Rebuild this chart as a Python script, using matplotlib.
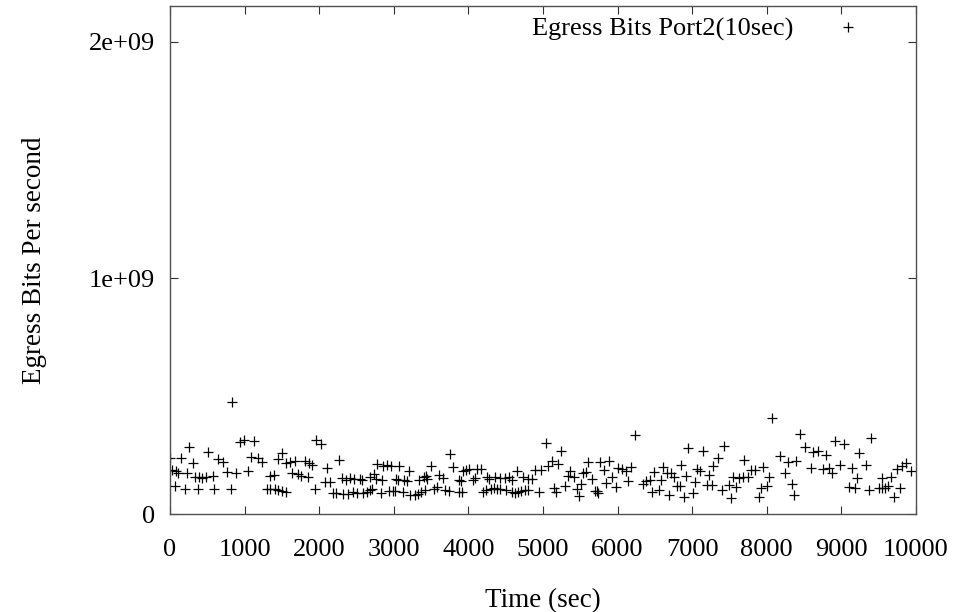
import numpy as np
import matplotlib
matplotlib.use("Agg")
import matplotlib.pyplot as plt

plt.rcParams['font.family'] = ['Liberation Serif', 'DejaVu Serif']

# sample time (sec)
time_sec = [
    0, 30, 70, 80, 110, 150, 200, 230, 260, 310, 340, 380, 390, 430, 480, 510,
    580, 590, 640, 710, 760, 820, 830, 890, 940, 990, 1040, 1090, 1130, 1180, 1230,
    1300, 1340, 1340, 1390, 1410, 1450, 1450, 1500, 1500, 1560, 1560, 1610, 1640,
    1670, 1720, 1760, 1810, 1850, 1870, 1910, 1950, 1960, 2020, 2080, 2110, 2150,
    2190, 2230, 2260, 2300, 2320, 2360, 2380, 2410, 2450, 2470, 2510, 2550, 2580,
    2590, 2640, 2680, 2680, 2710, 2730, 2760, 2780, 2830, 2840, 2860, 2910, 2940,
    2960, 2990, 3020, 3030, 3060, 3070, 3130, 3140, 3180, 3210, 3220, 3280, 3320,
    3340, 3370, 3410, 3420, 3430, 3450, 3500, 3540, 3580, 3600, 3660, 3690, 3740,
    3750, 3800, 3870, 3880, 3900, 3920, 3930, 3970, 4010, 4060, 4090, 4120, 4170,
    4200, 4240, 4250, 4280, 4300, 4350, 4360, 4390, 4420, 4430, 4490, 4510, 4540,
    4580, 4590, 4620, 4650, 4670, 4710, 4730, 4760, 4800, 4800, 4850, 4890, 4940,
    4970, 5040, 5070, 5120, 5150, 5180, 5200, 5240, 5300, 5330, 5360, 5420, 5450,
    5480, 5510, 5530, 5580, 5610, 5660, 5700, 5720, 5740, 5760, 5820, 5850, 5880,
    5930, 5980, 6010, 6060, 6110, 6140, 6180, 6230, 6340, 6380, 6430, 6460, 6490,
    6550, 6580, 6610, 6660, 6690, 6710, 6760, 6800, 6830, 6850, 6890, 6920, 6950,
    7010, 7040, 7060, 7110, 7140, 7200, 7220, 7260, 7280, 7340, 7400, 7420, 7500,
    7520, 7550, 7590, 7630, 7680, 7700, 7750, 7790, 7840, 7900, 7920, 7950, 8000,
    8030, 8070, 8180, 8240, 8280, 8340, 8360, 8390, 8440, 8510, 8590, 8620, 8690,
    8750, 8790, 8840, 8880, 8910, 8980, 9040, 9100, 9140, 9180, 9210, 9240, 9330,
    9370, 9400, 9500, 9540, 9540, 9580, 9630, 9670, 9710, 9740, 9790, 9810, 9870,
    9930,
]

# egress rate, Mbit/s
egress_mbps = [
    240, 188, 120, 183, 176, 240, 107, 176, 286, 216, 159, 107, 157, 154, 157, 264,
    162, 107, 234, 223, 178, 107, 477, 176, 308, 315, 183, 242, 312, 237, 223,
    106, 106, 162, 167, 106, 234, 103, 99, 261, 96, 216, 223, 174,
    226, 171, 164, 226, 159, 216, 209, 106, 315, 298, 136, 195, 136,
    92, 89, 230, 153, 86, 145, 86, 153, 93, 148, 89, 148, 145,
    89, 96, 103, 157, 106, 171, 148, 213, 92, 145, 205, 209, 100,
    205, 100, 100, 151, 145, 205, 96, 145, 142, 185, 82, 82, 86,
    145, 96, 157, 103, 162, 148, 205, 106, 114, 167, 155, 103, 100,
    254, 202, 96, 145, 142, 96, 185, 188, 192, 145, 153, 192, 192,
    96, 103, 157, 150, 106, 110, 159, 107, 106, 153, 155, 103, 157,
    96, 145, 89, 185, 96, 99, 157, 103, 150, 103, 150, 188, 96,
    188, 301, 205, 226, 110, 96, 213, 268, 121, 162, 185, 157, 106,
    78, 128, 176, 180, 223, 148, 100, 100, 89, 223, 188, 134, 227,
    157, 114, 195, 191, 183, 142, 199, 336, 127, 142, 145, 96, 180,
    103, 145, 199, 174, 82, 174, 159, 120, 120, 209, 75, 162, 282,
    89, 138, 191, 185, 268, 124, 167, 124, 206, 240, 103, 291, 124,
    68, 157, 117, 153, 159, 230, 157, 188, 188, 75, 113, 202, 120,
    157, 409, 247, 174, 223, 128, 82, 226, 339, 286, 195, 265, 269,
    191, 251, 195, 174, 312, 209, 298, 117, 195, 113, 153, 258, 209,
    103, 325, 110, 155, 110, 110, 120, 159, 72, 191, 110, 205, 216,
    185,
]

series_label = "Egress Bits Port2(10sec)"

t = np.array(time_sec)
bps = np.array(egress_mbps) * 1e6

fig = plt.figure(figsize=(9.73, 6.12), dpi=100)
ax = fig.add_axes([0.1747, 0.1596, 0.7667, 0.8301])

ax.plot(t, bps, linestyle='none', marker='+', markersize=7,
        markeredgewidth=0.9, color='black', label=series_label)

ax.set_xlim(0, 10000)
ax.set_ylim(0, 2.15e9)
ax.set_xticks(np.arange(0, 10001, 1000))
ax.set_yticks([0, 1e9, 2e9])
ax.set_yticklabels(['0', '1e+09', '2e+09'])

for sp in ax.spines.values():
    sp.set_color('#505050')
    sp.set_linewidth(1.0)

ax.tick_params(direction='in', top=True, right=True, length=5.5,
               width=0.8, color='#303030', labelsize=19)
ax.tick_params(axis='x', pad=18)
ax.tick_params(axis='y', pad=11)

ax.set_xlabel('Time (sec)', fontsize=19.5, labelpad=19)
ax.set_ylabel('Egress Bits Per second', fontsize=19.5, labelpad=30)

ax.legend(loc='upper right', bbox_to_anchor=(0.944, 0.978), frameon=False,
          markerfirst=False, numpoints=1, fontsize=19, borderpad=0,
          borderaxespad=0, handletextpad=1.05, handlelength=2.0)

fig.savefig('out.png', dpi=100)
